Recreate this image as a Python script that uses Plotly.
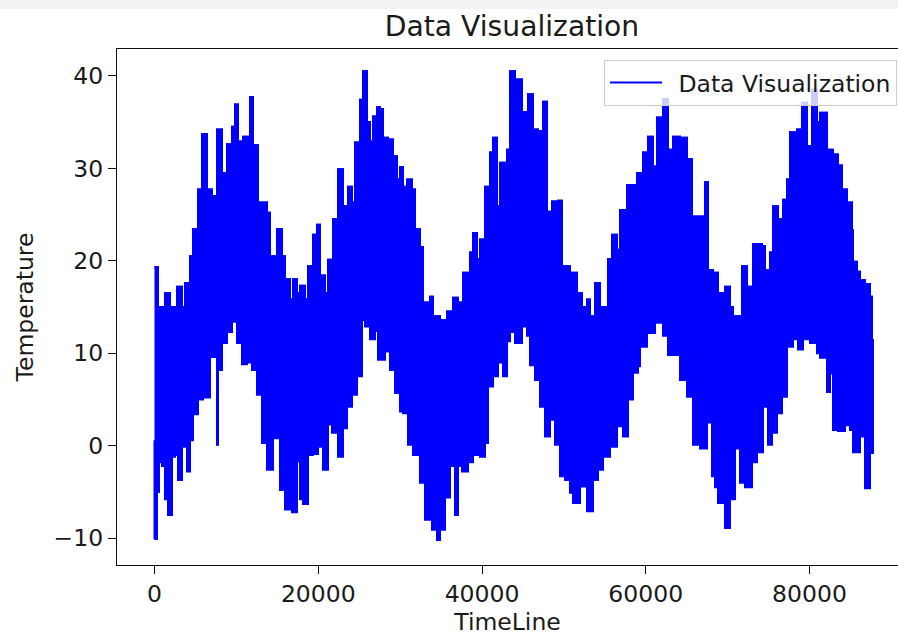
import plotly.graph_objects as go

# Upper envelope of the dense temperature trace
upper_x = [0, 427, 1038, 1282, 1893, 2748, 3359, 3725, 4336, 4702, 5313, 5802, 6412, 7023,
           7634, 8244, 8855, 9466, 9832, 10199, 10809, 11664, 12031, 12641, 13741, 14107,
           14962, 15573, 15939, 16550, 16916, 17405, 17771, 18382, 18748, 19359, 19847,
           20214, 20824, 21191, 21802, 22412, 23023, 23634, 24122, 24489, 25100, 25466,
           25954, 26321, 26687, 27176, 27542, 27909, 28519, 29130, 29619, 29985, 30351,
           30840, 31450, 31817, 32428, 32794, 33649, 34015, 34870, 35725, 36458, 37069,
           37680, 38535, 38901, 39390, 39756, 40367, 40978, 41344, 41833, 42199, 43054,
           43420, 44031, 44886, 45619, 46229, 46840, 47451, 47939, 48550, 49283, 49771,
           50748, 51603, 52214, 52825, 53191, 53802, 54412, 55267, 55390, 55878, 56489,
           56855, 57710, 58443, 58932, 59665, 60275, 60886, 61374, 62107, 62718, 63329,
           64184, 65039, 65649, 66626, 67237, 67604, 68214, 68825, 69680, 70290, 70657,
           71756, 72367, 73100, 74199, 74565, 75176, 75543, 76153, 76764, 77252, 77619,
           78474, 79084, 79695, 80306, 80916, 81282, 82138, 82871, 83482, 83970, 84581,
           85191, 85314, 85802, 86169, 86779, 87390, 87634, 87756]
upper_y = [19.3, 15.0, 15.0, 16.5, 15.0, 17.2, 15.0, 17.6, 20.5, 23.4, 27.7, 33.7, 27.7, 27.0,
           34.2, 29.5, 32.6, 34.5, 36.9, 32.9, 33.4, 37.7, 32.5, 26.3, 25.2, 20.5,
           23.4, 20.5, 18.0, 15.8, 18.0, 16.5, 17.3, 15.8, 19.4, 22.8, 23.9,
           18.4, 16.5, 20.1, 24.5, 29.9, 25.9, 28.0, 26.3, 32.8, 37.4, 40.5,
           35.0, 32.9, 35.6, 36.6, 36.4, 33.3, 33.1, 31.3, 28.8, 30.1, 28.0,
           28.8, 27.7, 23.4, 21.5, 15.5, 16.1, 14.0, 13.6, 14.5, 16.0, 15.5,
           18.7, 20.9, 23.0, 20.2, 22.3, 28.0, 31.7, 33.3, 25.9, 30.6, 32.0,
           40.5, 39.6, 36.1, 38.0, 34.2, 34.0, 37.2, 25.3, 26.4, 26.5, 19.4,
           18.7, 16.5, 15.0, 15.8, 14.0, 17.6, 15.0, 15.0, 20.2, 22.8, 21.2,
           25.5, 28.2, 28.2, 29.5, 31.7, 33.4, 30.2, 35.5, 37.5, 32.0, 33.4,
           33.3, 31.0, 24.8, 24.8, 28.5, 19.0, 18.7, 16.5, 17.2, 15.0, 14.0,
           19.4, 17.2, 21.8, 21.6, 19.0, 20.9, 25.9, 24.5, 26.6, 28.8, 33.9,
           34.2, 37.1, 32.4, 38.5, 35.0, 36.0, 32.0, 31.5, 30.3, 27.7, 26.3,
           23.3, 19.9, 18.8, 17.9, 17.5, 16.1, 11.4, 5.0]

# Lower envelope of the same trace
lower_x = [0, 120, 305, 550, 916, 1282, 1649, 2137, 2504, 2870, 3359, 3969, 4336, 4702,
           5313, 5924, 6779, 7634, 7756, 8244, 8855, 9466, 10077, 10687, 11298, 11909,
           12519, 13130, 13741, 14474, 15329, 15939, 16794, 17405, 17771, 18138, 18748,
           19359, 19970, 20580, 21191, 21680, 22412, 23023, 23511, 24122, 24733, 25344,
           25710, 26321, 26931, 27298, 28153, 28764, 29374, 29985, 30351, 30962, 31573,
           32428, 33038, 33893, 34504, 34870, 35481, 36092, 36702, 37069, 37557, 38290,
           38901, 39756, 40367, 40733, 41344, 41955, 42566, 43054, 43420, 44031, 44886,
           45497, 45863, 46474, 47085, 47695, 48306, 48916, 49527, 50138, 50748, 51115,
           51970, 52825, 53558, 54168, 54779, 55634, 56489, 57222, 57832, 58443, 59054,
           59298, 60153, 61130, 62107, 62718, 63329, 64184, 65039, 65772, 66626, 67481,
           68092, 68458, 68825, 69680, 70290, 70901, 71512, 72123, 72978, 73588, 74321,
           74932, 75420, 76031, 76642, 77252, 77985, 78596, 79207, 80062, 80916, 81282,
           82138, 82504, 82871, 83482, 84337, 84947, 85314, 86169, 86779, 87390, 87756]
lower_y = [0.6, -10.0, -10.1, -5.0, -1.8, -2.2, -5.8, -7.5, -1.2, -1.0, -3.7, -0.1, -2.8, 0.6,
           3.4, 5.0, 5.2, 9.6, 0.1, 8.2, 11.1, 12.3, 13.4, 11.1, 8.8, 9.0,
           8.2, 5.5, 0.3, -2.6, 0.8, -4.8, -6.9, -7.2, -1.7, -5.8, -6.3,
           -1.0, -0.9, -0.1, -2.6, 2.3, 1.4, -1.2, 1.9, 4.2, 5.5, 7.5,
           13.6, 12.9, 11.5, 12.4, 9.3, 10.2, 8.2, 5.7, 3.7, 3.5, 0.1,
           -1.0, -4.0, -8.0, -9.1, -10.2, -9.1, -5.6, -2.2, -7.5, -2.2, -2.8,
           -1.8, -1.0, -1.2, 0.3, 6.4, 7.5, 9.0, 7.5, 11.3, 12.3, 11.1,
           12.9, 11.9, 8.7, 7.1, 4.2, 1.0, 2.8, 0.1, -3.3, -3.7, -5.1,
           -6.2, -4.4, -7.1, -3.7, -2.6, -1.2, -0.1, 2.1, 1.0, 5.0, 7.9,
           8.6, 10.7, 12.2, 13.3, 11.9, 9.8, 9.8, 7.1, 5.3, 0.1, -0.3,
           2.5, -3.3, -4.5, -6.2, -8.9, -5.8, -0.3, -4.0, -4.5, -1.8, -0.7,
           4.2, 0.1, 1.4, 3.5, 5.3, 10.7, 11.5, 10.4, 11.5, 11.1, 10.0,
           9.5, 5.8, 7.8, 1.7, 1.6, 2.2, 1.7, -0.7, 1.0, -4.6, -0.8]

x_ticks = [0, 20000, 40000, 60000, 80000]
y_ticks = [-10, 0, 10, 20, 30, 40]

BLUE = "#0000ff"
FONT = "DejaVu Sans"
TXT = "#1a1a1a"
TICK_SIZE = 23.5
TITLE_SIZE = 28.2

# Closed band: upper envelope forward, lower envelope backward
band_x = upper_x + lower_x[::-1]
band_y = upper_y + lower_y[::-1]

fig = go.Figure()
fig.add_trace(go.Scatter(
    x=band_x, y=band_y, mode="lines", fill="toself", fillcolor=BLUE,
    line=dict(color=BLUE, width=2, shape="hv", simplify=False),
    showlegend=False, hoverinfo="skip",
))
fig.add_trace(go.Scatter(
    x=upper_x, y=upper_y, mode="lines", name="\u00a0\u2006Data Visualization",
    line=dict(color=BLUE, width=2, shape="hv", simplify=False), showlegend=True,
))

fig.update_layout(
    width=898, height=636,
    margin=dict(l=117, r=0, t=49, b=71),
    paper_bgcolor="white", plot_bgcolor="white",
    font=dict(family=FONT, size=TICK_SIZE, color=TXT),
    title=dict(text="Data Visualization", x=512 / 898, xanchor="center", xref="container",
               y=1 - 26 / 636, yanchor="middle", yref="container",
               font=dict(family=FONT, size=TITLE_SIZE, color=TXT)),
    legend=dict(x=0.9987, xanchor="right", y=0.979, yanchor="top",
                bgcolor="rgba(255,255,255,0.8)", bordercolor="#cccccc", borderwidth=1,
                font=dict(family=FONT, size=TICK_SIZE, color=TXT), itemwidth=52),
    shapes=[dict(type="rect", xref="paper", yref="paper",
                 x0=-117 / 781, x1=1.0, y0=(565 - 9) / 516, y1=565 / 516,
                 fillcolor="#f3f3f3", line=dict(width=0), layer="below")],
)
fig.update_xaxes(
    range=[-4580, 90810], tickvals=x_ticks, tickformat="d",
    ticks="outside", ticklen=8, tickwidth=1.3, tickcolor="#111",
    showline=True, linecolor="#111", linewidth=1.3, mirror=True,
    showgrid=False, zeroline=False,
    title=dict(text="TimeLine", standoff=11, font=dict(family=FONT, size=TICK_SIZE, color=TXT)),
)
fig.update_yaxes(
    range=[-12.9, 42.9], tickvals=y_ticks,
    ticks="outside", ticklen=8, tickwidth=1.3, tickcolor="#111",
    showline=True, linecolor="#111", linewidth=1.3, mirror=False,
    showgrid=False, zeroline=False,
    title=dict(text="Temperature", standoff=13, font=dict(family=FONT, size=TICK_SIZE, color=TXT)),
)

fig.write_html("out.html")
